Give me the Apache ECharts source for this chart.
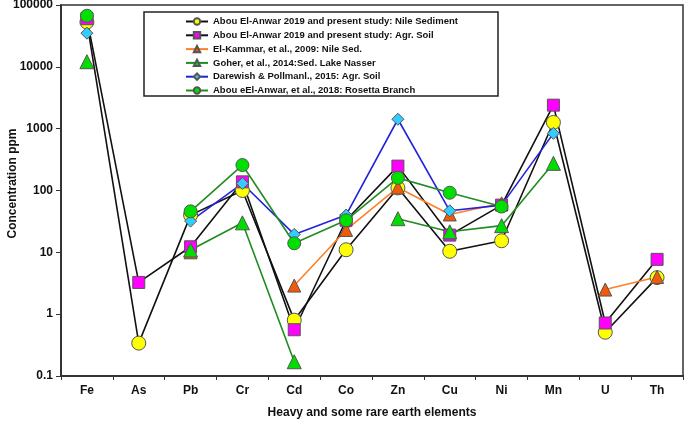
<!DOCTYPE html>
<html><head><meta charset="utf-8">
<script src="https://cdn.jsdelivr.net/npm/echarts@6/dist/echarts.min.js"></script>
<style>html,body{margin:0;padding:0;background:#fff}#c{width:685px;height:422px}</style>
</head><body><div id="c"></div>
<script>
const categories = ['Fe','As','Pb','Cr','Cd','Co','Zn','Cu','Ni','Mn','U','Th'];
const yTicks = [0.1, 1, 10, 100, 1000, 10000, 100000];
const nileSediment = [53000, 0.34, 40, 100, 0.8, 11, 110, 10.4, 15.4, 1260, 0.51, 3.9];
const agrSoil = [60000, 3.26, 12.3, 138, 0.56, 33, 248, 19, 58, 2400, 0.72, 7.7];
const elKammar = [null, null, 10, null, 2.9, 23, 112, 41, 62, null, 2.5, 4.0];
const goher = [12100, null, 10.9, 30, 0.17, null, 35, 21.5, 27, 275, null, null];
const darewish = [35000, null, 32, 130, 19.5, 40, 1420, 47, 58, 840, null, null];
const rosetta = [67000, null, 46, 258, 14, 33, 160, 92, 55, null, null, null];
const seriesNames = [
  'Abou El-Anwar 2019 and present study: Nile Sediment',
  'Abou El-Anwar 2019 and present study: Agr. Soil',
  'El-Kammar, et al., 2009: Nile Sed.',
  'Goher, et al., 2014:Sed. Lake Nasser',
  'Darewish & Pollmanl., 2015: Agr. Soil',
  'Abou eEl-Anwar, et al., 2018: Rosetta Branch'
];
const FONT = 'Arial, "Liberation Sans", sans-serif';
function mk(name, data, lineColor, symbol, fill, size) {
  return {
    name, type: 'line', data, connectNulls: false,
    symbol, symbolSize: size,
    lineStyle: { color: lineColor, width: 1.6 },
    itemStyle: { color: fill, borderColor: '#555', borderWidth: 1 },
    emphasis: { disabled: true }
  };
}
const chart = echarts.init(document.getElementById('c'), null, { renderer: 'canvas' });
chart.setOption({
  animation: false,
  backgroundColor: '#fff',
  grid: { left: 61, right: 2, top: 5, bottom: 46, show: true, borderColor: '#333', borderWidth: 1.5, outerBoundsMode: 'none', containLabel: false },
  graphic: [{
    type: 'rect', shape: { x: 144, y: 12, width: 354, height: 84 },
    style: { fill: '#fff', stroke: '#222', lineWidth: 1.5 }, z: 5
  }],
  legend: {
    orient: 'vertical', left: 180, top: 11, z: 10,
    itemWidth: 22, itemHeight: 8, itemGap: 2.8,
    textStyle: { fontFamily: FONT, fontWeight: 'bold', fontSize: 9.5, color: '#111', lineHeight: 11 },
    data: seriesNames
  },
  xAxis: {
    type: 'category', data: categories, boundaryGap: true,
    name: 'Heavy and some rare earth elements', nameLocation: 'middle', nameGap: 31, nameMoveOverlap: false,
    nameTextStyle: { fontFamily: FONT, fontWeight: 'bold', fontSize: 12, color: '#111' },
    axisLine: { lineStyle: { color: '#333', width: 2 } },
    axisTick: { show: true, inside: false, length: 4, lineStyle: { color: '#333' } },
    axisLabel: { fontFamily: FONT, fontWeight: 'bold', fontSize: 12, color: '#111', margin: 9 },
    splitLine: { show: false }
  },
  yAxis: {
    type: 'log', logBase: 10, min: 0.1, max: 100000,
    name: 'Concentration ppm', nameLocation: 'middle', nameGap: 42, nameRotate: 90, nameMoveOverlap: false,
    nameTextStyle: { fontFamily: FONT, fontWeight: 'bold', fontSize: 12, color: '#111', padding: [0, 0, 0, 14] },
    axisLine: { show: true, lineStyle: { color: '#333', width: 2 } },
    axisTick: { show: true, inside: false, length: 5, lineStyle: { color: '#333' } },
    axisLabel: { fontFamily: FONT, fontWeight: 'bold', fontSize: 12, color: '#111', margin: 8,
      formatter: v => { const r = yTicks.find(t => Math.abs(t - v) / t < 1e-6); return r !== undefined ? String(r) : String(v); } },
    splitLine: { show: false }
  },
  series: [
    mk(seriesNames[0], nileSediment, '#111', 'circle', '#FFFF00', 14),
    mk(seriesNames[1], agrSoil, '#111', 'rect', '#FF00FF', 12),
    mk(seriesNames[2], elKammar, '#FF7F27', 'triangle', '#F25A0A', 13),
    mk(seriesNames[3], goher, '#1E8C1E', 'triangle', '#00DD00', 14),
    mk(seriesNames[4], darewish, '#2222DD', 'diamond', '#33CCFF', 12),
    mk(seriesNames[5], rosetta, '#228B22', 'circle', '#00E000', 13)
  ]
});
</script></body></html>
